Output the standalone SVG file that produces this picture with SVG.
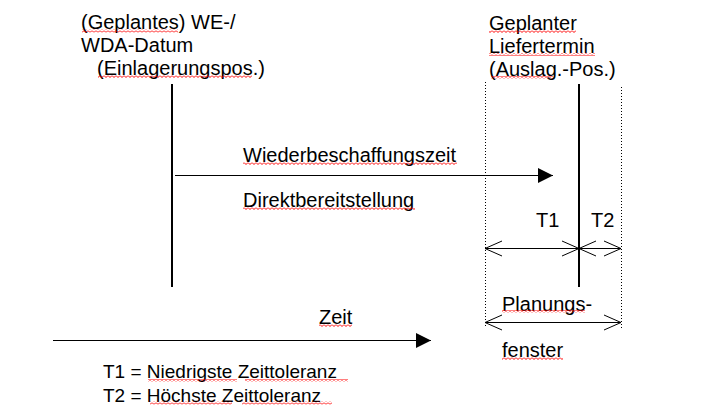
<svg xmlns="http://www.w3.org/2000/svg" width="710" height="420" viewBox="0 0 710 420">
<style>
text{font-family:"Liberation Sans",Arial,sans-serif;font-size:20px;fill:#000}
.legend{font-size:19px}
.solid{stroke:#000;stroke-width:2;fill:none}
.thin{stroke:#000;stroke-width:1;fill:none}
.dot{stroke:#000;stroke-width:1;stroke-dasharray:1 2;fill:none}
.sq{fill:url(#squig)}
</style>
<defs>
<marker id="fill" markerUnits="userSpaceOnUse" markerWidth="16" markerHeight="16" refX="15" refY="7.5" orient="auto" overflow="visible">
<path d="M0,0 L15,7.5 L0,15 Z" fill="#000"/>
</marker>
<marker id="open" markerUnits="userSpaceOnUse" markerWidth="20" markerHeight="17" refX="18" refY="7.5" orient="auto-start-reverse" overflow="visible">
<path d="M1,0 L18,7.5 L1,15" fill="none" stroke="#000" stroke-width="1"/>
</marker>
<pattern id="squig" patternUnits="userSpaceOnUse" width="4" height="3">
<path d="M0,0.5 L2,2.5 L4,0.5" fill="none" stroke="#ff0000" stroke-width="1"/>
</pattern>
</defs>
<rect width="710" height="420" fill="#fff"/>

<g id="node-start">
<text x="81" y="29">(Geplantes) WE-/</text>
<text x="81" y="52">WDA-Datum</text>
<text x="97" y="75">(Einlagerungspos.)</text>
</g>

<g id="node-delivery">
<text x="489" y="30">Geplanter</text>
<text x="489" y="53">Liefertermin</text>
<text x="489" y="76">(Auslag.-Pos.)</text>
</g>

<g id="node-wbz">
<text x="243" y="162">Wiederbeschaffungszeit</text>
<text x="243" y="207">Direktbereitstellung</text>
</g>

<g id="node-t">
<text x="536" y="227">T1</text>
<text x="591" y="227">T2</text>
</g>

<g id="node-window">
<text x="502" y="311">Planungs-</text>
<text x="502" y="357">fenster</text>
</g>

<g id="node-time">
<text x="319" y="324">Zeit</text>
</g>

<g id="node-legend">
<text class="legend" x="103" y="378">T1 = Niedrigste Zeittoleranz</text>
<text class="legend" x="103" y="402">T2 = Höchste Zeittoleranz</text>
</g>

<g id="connectors">
<line class="solid" x1="172" y1="84" x2="172" y2="287"/>
<line class="solid" x1="579" y1="84" x2="579" y2="287"/>
<line class="dot" x1="485.5" y1="82" x2="485.5" y2="328"/>
<line class="dot" x1="621.5" y1="87" x2="621.5" y2="328"/>
<line class="thin" x1="175" y1="175.5" x2="553" y2="175.5" marker-end="url(#fill)"/>
<line class="thin" x1="485" y1="248.5" x2="579" y2="248.5" marker-start="url(#open)" marker-end="url(#open)"/>
<line class="thin" x1="579" y1="248.5" x2="621" y2="248.5" marker-start="url(#open)" marker-end="url(#open)"/>
<line class="thin" x1="485" y1="322.5" x2="621" y2="322.5" marker-start="url(#open)" marker-end="url(#open)"/>
<line class="thin" x1="53" y1="340.5" x2="431" y2="340.5" marker-end="url(#fill)"/>
</g>

<g id="spellcheck">
<rect class="sq" x="82" y="29.5" width="96" height="3"/>
<rect class="sq" x="98" y="75" width="154" height="3"/>
<rect class="sq" x="489" y="30" width="87" height="3"/>
<rect class="sq" x="489" y="53" width="106" height="3"/>
<rect class="sq" x="491" y="76" width="62" height="3"/>
<rect class="sq" x="243" y="162" width="214" height="3"/>
<rect class="sq" x="243" y="207" width="172" height="3"/>
<rect class="sq" x="502" y="310" width="83" height="3"/>
<rect class="sq" x="502" y="357" width="61" height="3"/>
<rect class="sq" x="319" y="324" width="33" height="3"/>
<rect class="sq" x="148" y="379" width="89" height="3"/>
<rect class="sq" x="245" y="379" width="103" height="3"/>
<rect class="sq" x="150" y="401.5" width="82" height="3"/>
<rect class="sq" x="242" y="401.5" width="90" height="3"/>
</g>
</svg>
